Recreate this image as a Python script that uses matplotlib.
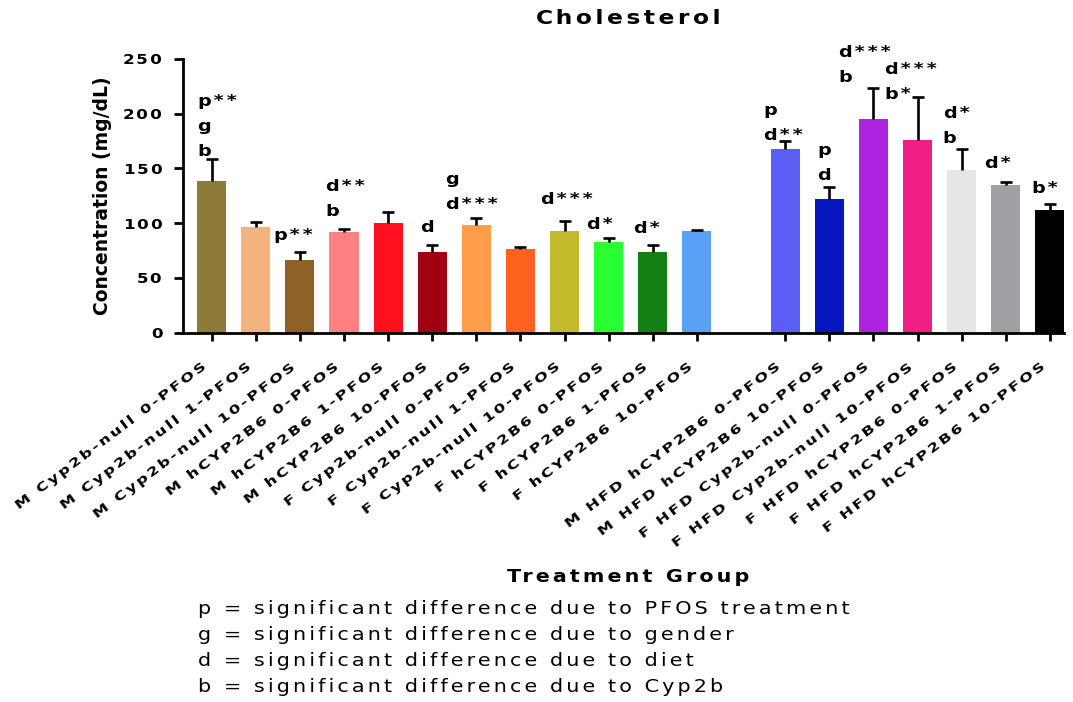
import matplotlib
matplotlib.use('Agg')
import matplotlib.pyplot as plt
from matplotlib import font_manager
from matplotlib.transforms import ScaledTranslation
import numpy as np

groups = ['M Cyp2b-null 0-PFOS', 'M Cyp2b-null 1-PFOS', 'M Cyp2b-null 10-PFOS',
          'M hCYP2B6 0-PFOS', 'M hCYP2B6 1-PFOS', 'M hCYP2B6 10-PFOS',
          'F Cyp2b-null 0-PFOS', 'F Cyp2b-null 1-PFOS', 'F Cyp2b-null 10-PFOS',
          'F hCYP2B6 0-PFOS', 'F hCYP2B6 1-PFOS', 'F hCYP2B6 10-PFOS',
          'M HFD hCYP2B6 0-PFOS', 'M HFD hCYP2B6 10-PFOS',
          'F HFD Cyp2b-null 0-PFOS', 'F HFD Cyp2b-null 10-PFOS',
          'F HFD hCYP2B6 0-PFOS', 'F HFD hCYP2B6 1-PFOS', 'F HFD hCYP2B6 10-PFOS']
means = [138.5, 96.8, 66.4, 91.7, 100.5, 74.0, 98.4, 76.5, 92.9, 82.6, 74.0, 92.9,
         167.8, 121.8, 195.0, 176.0, 148.6, 134.6, 112.0]
sems = [20.2, 4.6, 7.3, 2.7, 10.0, 6.4, 6.1, 1.5, 9.1, 3.6, 6.1, 0.9,
        7.2, 11.3, 28.8, 39.3, 19.2, 3.4, 5.8]
bar_colors = ['#8b7a3a', '#f2b47e', '#8e6127', '#ff8080', '#ff101e', '#a0000f',
              '#ff9d4a', '#ff6220', '#c2ba2a', '#2aff33', '#137f14', '#5aa0f7',
              '#5b5ef3', '#0717bf', '#ae22e0', '#f01e84', '#e6e6e6', '#a09fa4', '#000000']

# significance letters per group, listed bottom to top
notes = {0: ['b', 'g', 'p**'], 2: ['p**'], 3: ['b', 'd**'], 5: ['d'], 6: ['d***', 'g'],
         8: ['d***'], 9: ['d*'], 10: ['d*'], 12: ['d**', 'p'], 13: ['d', 'p'],
         14: ['b', 'd***'], 15: ['b*', 'd***'], 16: ['b', 'd*'], 17: ['d*'], 18: ['b*']}

key_lines = ['p = significant difference due to PFOS treatment',
             'g = significant difference due to gender',
             'd = significant difference due to diet',
             'b = significant difference due to Cyp2b']

# where each stack of letters sits: (shift from bar centre, baseline of first line)
note_pos = {0: (-0.33, 161), 2: (-0.61, 84.5), 3: (-0.43, 106.6), 5: (-0.27, 92.3),
            6: (-0.71, 113), 8: (-0.55, 117.6), 9: (-0.51, 94.7), 10: (-0.44, 91),
            12: (-0.49, 176), 13: (-0.27, 139.5), 14: (-0.79, 229), 15: (-0.75, 213.8),
            16: (-0.43, 173.3), 17: (-0.48, 150.5), 18: (-0.41, 127.6)}


def wide_font(weight, path, stretch=1.2, track=0.18):
    # DejaVu Sans with wider letters and extra letter spacing (Prism-like export look)
    src = font_manager.findfont(font_manager.FontProperties(family='DejaVu Sans', weight=weight))
    try:
        from fontTools.ttLib import TTFont
        font = TTFont(src)
        glyf, hmtx = font['glyf'], font['hmtx']
        extra = round(track * font['head'].unitsPerEm)
        cmap = font.getBestCmap()
        names = sorted({cmap[c] for c in range(32, 127) if c in cmap})
        for name in names:
            g = glyf[name]
            if g.isComposite():
                for c in g.components:
                    c.x = round(c.x * stretch)
            elif g.numberOfContours > 0:
                g.coordinates.scale((stretch, 1))
                g.coordinates.toInt()
        for name in names:
            g = glyf[name]
            adv, lsb = hmtx[name]
            if g.numberOfContours != 0:
                g.recalcBounds(glyf)
                lsb = g.xMin
            hmtx[name] = (round(adv * stretch) + extra, lsb)
        for tag in ('hdmx', 'LTSH', 'VDMX'):
            if tag in font:
                del font[tag]
        font.save(path)
        return path
    except Exception:
        return src


bold_path = wide_font('bold', 'dejavu_wide_bold.ttf')
reg_path = wide_font('normal', 'dejavu_wide.ttf')


def fp(path, size):
    return font_manager.FontProperties(fname=path, size=size)


x = np.r_[0:12, 13:20]

fig = plt.figure(figsize=(10.73, 7.02), dpi=100)
ax = fig.add_axes([0.1708, 0.5261, 0.8208, 0.3899])

ax.bar(x, means, width=0.66, color=bar_colors, zorder=1)
eb = ax.errorbar(x, means, yerr=[np.zeros(len(sems)), sems], fmt='none', ecolor='black',
                 elinewidth=1.9, capsize=4.3, capthick=1.9, zorder=3)
# only the upper whisker gets a cap
for cap in eb[1]:
    if np.allclose(cap.get_ydata(), means):
        cap.set_visible(False)

for i, lines in notes.items():
    dx, y0 = note_pos[i]
    for k, txt in enumerate(lines):
        ax.annotate(txt, (x[i] + dx, y0), xytext=(0, 18 * k), textcoords='offset points',
                    ha='left', va='baseline', fontproperties=fp(bold_path, 11.5),
                    annotation_clip=False)

ax.set_xlim(-0.642, 19.32)
ax.set_ylim(0, 250)
for side in ['top', 'right']:
    ax.spines[side].set_visible(False)
for side in ['left', 'bottom']:
    ax.spines[side].set_linewidth(2)

yt = np.arange(0, 251, 50)
ax.set_yticks(yt, [str(v) for v in yt], fontproperties=fp(bold_path, 10))
ax.set_xticks(x, groups, rotation=37, ha='right', va='top', rotation_mode='anchor',
              fontproperties=fp(bold_path, 9.7))
ax.tick_params(axis='y', direction='out', length=6.5, width=2, pad=6.5)
ax.tick_params(axis='x', direction='out', length=5.8, width=2, pad=13)
shift = ScaledTranslation(-0.08, 0, fig.dpi_scale_trans)
for lab in ax.get_xticklabels():
    lab.set_transform(lab.get_transform() + shift)

ax.set_ylabel('Concentration (mg/dL)', fontsize=13.5, fontweight='bold')
ax.yaxis.set_label_coords(-0.081, 0.5)
ax.set_xlabel('Treatment Group', fontproperties=fp(bold_path, 12.4))
ax.xaxis.set_label_coords(0.507, -0.86)
ax.set_title('Cholesterol', fontproperties=fp(bold_path, 14), pad=25, x=0.508)

for k, line in enumerate(key_lines):
    fig.text(198 / 1073, 1 - (614 + 26 * k) / 702, line, ha='left', va='baseline',
             fontproperties=fp(reg_path, 12.4))

fig.savefig('out.png', dpi=100)
